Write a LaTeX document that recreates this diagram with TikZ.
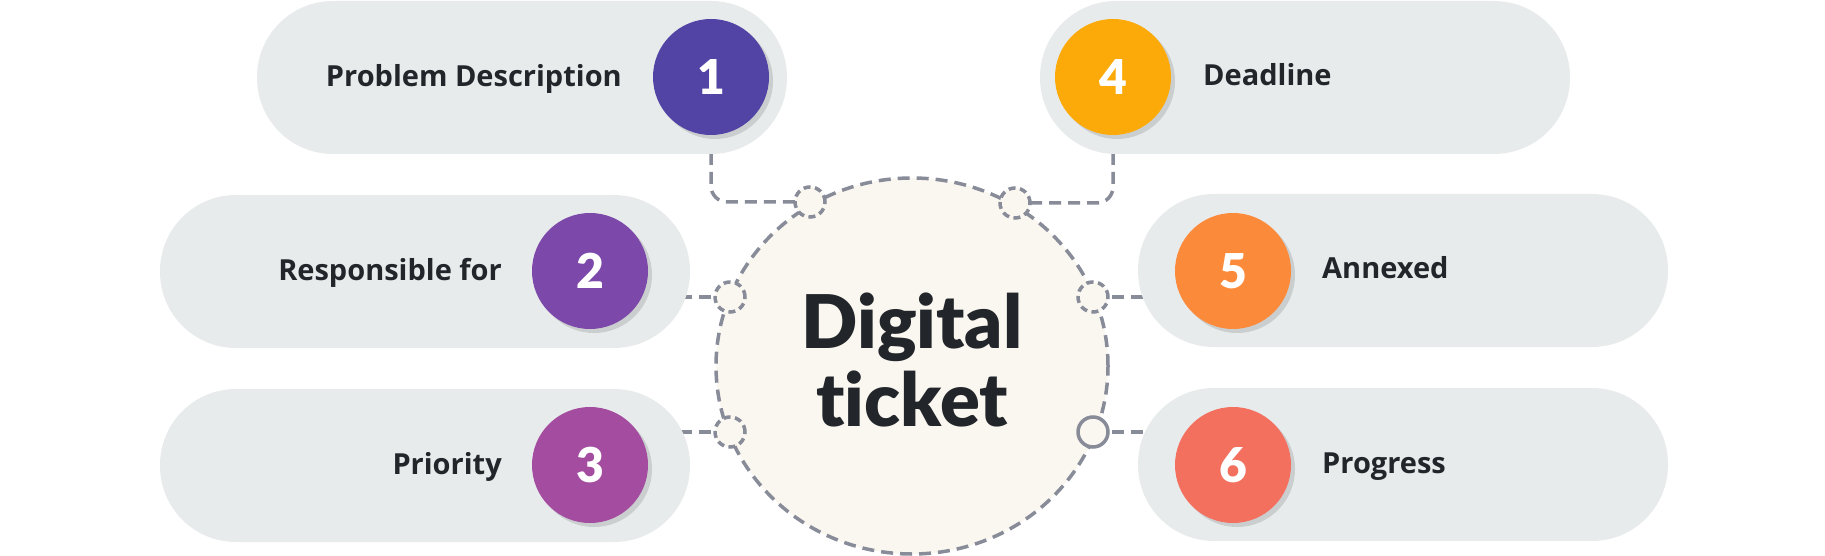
\documentclass[tikz,border=0pt]{standalone}
\usepackage{fontspec}
\setmainfont{Open Sans}
\newfontfamily\titlefont{Lato}[BoldFont={Lato Black},Ligatures=NoCommon]
\usetikzlibrary{shadows,backgrounds,shapes.geometric}
\definecolor{ink}{HTML}{22262A}
\definecolor{pillgray}{HTML}{E8EBEC}
\definecolor{hubfill}{HTML}{FAF6F0}
\definecolor{linegray}{HTML}{888B98}
\definecolor{cone}{HTML}{5244A5}
\definecolor{ctwo}{HTML}{7C48A9}
\definecolor{cthree}{HTML}{A34CA0}
\definecolor{cfour}{HTML}{FCAA0A}
\definecolor{cfive}{HTML}{FC8A3B}
\definecolor{csix}{HTML}{F3705F}
\begin{document}
\begin{tikzpicture}[x=1pt,y=-1pt,
  pill/.style={rectangle, rounded corners=76pt, fill=pillgray, minimum width=530pt, minimum height=153pt, inner sep=0pt},
  num/.style={circle, minimum size=116pt, inner sep=0pt, text=white,
    font=\titlefont\bfseries\fontsize{48}{48}\selectfont,
    drop shadow={shadow xshift=4pt, shadow yshift=-4pt, opacity=0.12, fill=black}},
  lbl/.style={font=\bfseries\fontsize{29}{29}\selectfont, text=ink, inner sep=0pt},
  conn/.style={draw=linegray, line width=3.5pt, dash pattern=on 12pt off 7pt},
  port/.style={circle, minimum size=30pt, inner sep=0pt, draw=linegray, line width=3.5pt, fill=hubfill, dash pattern=on 7pt off 4.5pt},
  hubstyle/.style={ellipse, minimum width=392pt, minimum height=376pt, inner sep=0pt, fill=hubfill, draw=linegray, line width=3.5pt, dash pattern=on 12pt off 7pt},
  title/.style={font=\titlefont\bfseries\fontsize{74}{78}\selectfont, text=ink, align=center, inner sep=0pt}
]
\useasboundingbox (0,0) rectangle (1825,556);

% pills
\node[pill] (p1) at (522,77.5) {};
\node[pill] (p4) at (1305,77.5) {};
\node[pill] (p2) at (425,271.5) {};
\node[pill] (p3) at (425,465.5) {};
\node[pill] (p5) at (1403,270.5) {};
\node[pill] (p6) at (1403,464.5) {};

% hub
\node[hubstyle] (hub) at (912,366) {};
\node[title] (ttl) at (912,360) {Digital\\ticket};

% number circles
\node[num, fill=cone] (c1) at (711,77) {1};
\node[num, fill=cfour] (c4) at (1113,77) {4};
\node[num, fill=ctwo] (c2) at (590,271) {2};
\node[num, fill=cthree] (c3) at (590,465) {3};
\node[num, fill=cfive] (c5) at (1233,271) {5};
\node[num, fill=csix] (c6) at (1233,465) {6};

% labels
\node[lbl, anchor=base east] (t1) at (622,87) {Problem Description};
\node[lbl, anchor=base east] (t2) at (502,280) {Responsible for};
\node[lbl, anchor=base east] (t3) at (502,474) {Priority};
\node[lbl, anchor=base west] (t4) at (1203,86) {Deadline};
\node[lbl, anchor=base west] (t5) at (1322,278) {Annexed};
\node[lbl, anchor=base west] (t6) at (1322,473) {Progress};

% ports
\node[port] (s1) at (810,202) {};
\node[port] (s4) at (1015,203) {};
\node[port] (s2) at (730,297) {};
\node[port] (s3) at (730,432) {};
\node[port] (s5) at (1093,297) {};
\node[port, solid] (s6) at (1093,432) {};

% connectors
\begin{pgfonlayer}{background}
\draw[conn, rounded corners=16pt] (c1.center) |- (s1.center);
\draw[conn, rounded corners=16pt] (c4.center) |- (s4.center);
\draw[conn] (s2.center) -- (s2.center -| c2.center);
\draw[conn] (s3.center) -- (s3.center -| c3.center);
\draw[conn] (s5.center) -- (s5.center -| c5.center);
\draw[conn] (s6.center) -- (s6.center -| c6.center);
\end{pgfonlayer}
\end{tikzpicture}
\end{document}
